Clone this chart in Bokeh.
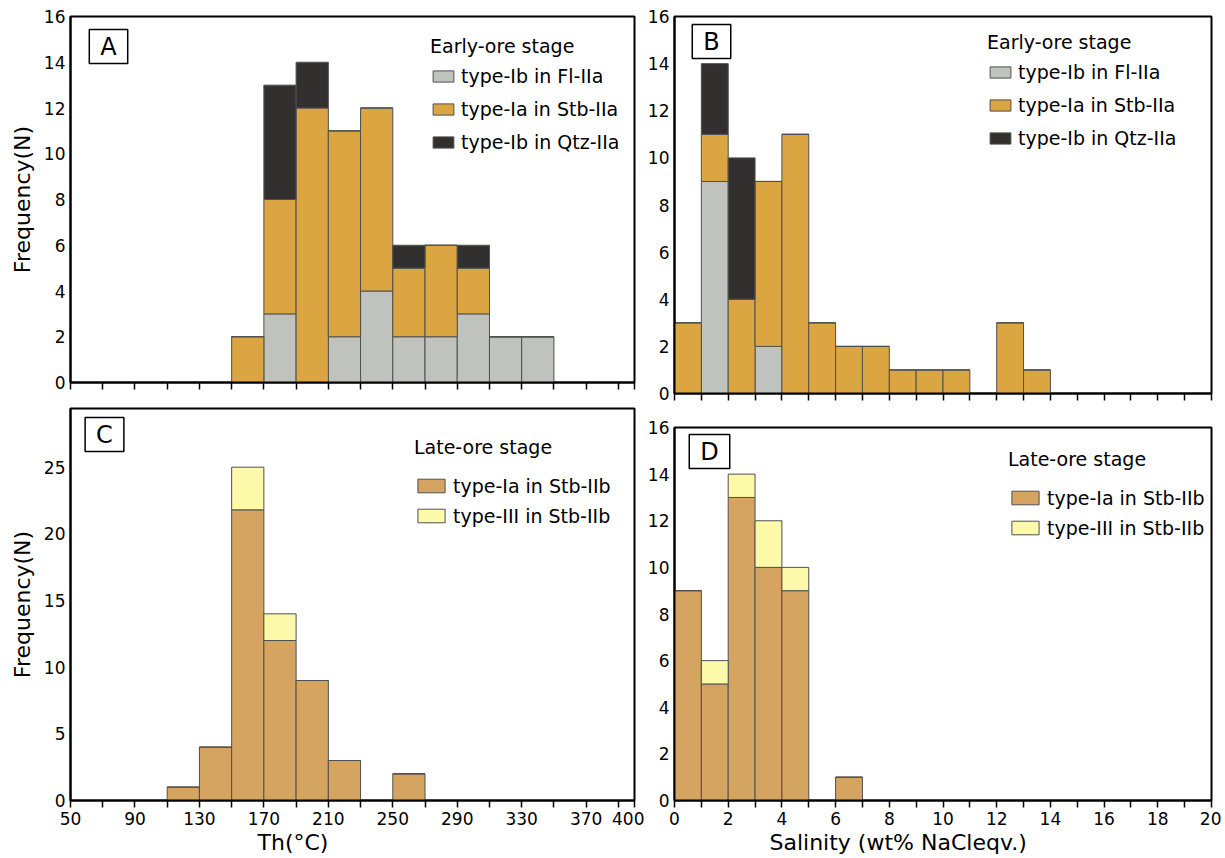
from bokeh.plotting import figure
from bokeh.models import Range1d, FixedTicker, Legend, LegendItem, Label, Title, ColumnDataSource
from bokeh.layouts import row, column
from bokeh.embed import file_html
from bokeh.resources import INLINE

FONT = "DejaVu Sans"

# ---------------- data ----------------
# Th (°C) histograms, bin width 20
th_bin_left_A = [150, 170, 190, 210, 230, 250, 270, 290, 310, 330]
A_fl_Ib = [0, 3, 0, 2, 4, 2, 2, 3, 2, 2]        # type-Ib in Fl-IIa
A_stb_Ia = [2, 5, 12, 9, 8, 3, 4, 2, 0, 0]      # type-Ia in Stb-IIa
A_qtz_Ib = [0, 5, 2, 0, 0, 1, 0, 1, 0, 0]       # type-Ib in Qtz-IIa

th_bin_left_C = [110, 130, 150, 170, 190, 210, 230, 250]
C_stb_Ia = [1, 4, 21.8, 12, 9, 3, 0, 2]         # type-Ia in Stb-IIb
C_stb_III = [0, 0, 3.2, 2, 0, 0, 0, 0]          # type-III in Stb-IIb

# Salinity (wt% NaCl eqv.) histograms, bin width 1
sal_bin_left_B = [0, 1, 2, 3, 4, 5, 6, 7, 8, 9, 10, 11, 12, 13]
B_fl_Ib = [0, 9, 0, 2, 0, 0, 0, 0, 0, 0, 0, 0, 0, 0]
B_stb_Ia = [3, 2, 4, 7, 11, 3, 2, 2, 1, 1, 1, 0, 3, 1]
B_qtz_Ib = [0, 3, 6, 0, 0, 0, 0, 0, 0, 0, 0, 0, 0, 0]

sal_bin_left_D = [0, 1, 2, 3, 4, 5, 6]
D_stb_Ia = [9, 5, 13, 10, 9, 0, 1]
D_stb_III = [0, 1, 1, 2, 1, 0, 0]

th_width = 20
sal_width = 1

th_ticks = [50, 90, 130, 170, 210, 250, 290, 330, 370, 400]
th_minor = [70, 110, 150, 190, 230, 270, 310, 350, 390]
sal_ticks = [0, 2, 4, 6, 8, 10, 12, 14, 16, 18, 20]
sal_minor = [1, 3, 5, 7, 9, 11, 13, 15, 17, 19]
freq16_ticks = [0, 2, 4, 6, 8, 10, 12, 14, 16]
freq30_ticks = [0, 5, 10, 15, 20, 25]

early_labels = ["type-Ib in Fl-IIa", "type-Ia in Stb-IIa", "type-Ib in Qtz-IIa"]
late_labels = ["type-Ia in Stb-IIb", "type-III in Stb-IIb"]

GREY = "#c0c2be"
ORANGE = "#dba541"
DARK = "#32302f"
TAN = "#d6a461"
PALE = "#fcfaa8"
EDGE = "#505050"


def make_fig(w, h, bl, br, bt, bb, xr, yr, xticks, xminor, yticks, xlabels, ylabel):
    p = figure(width=w, height=h, x_range=Range1d(*xr), y_range=Range1d(*yr),
               output_backend="svg", toolbar_location=None, tools="",
               min_border_left=bl, min_border_right=br, min_border_top=bt, min_border_bottom=bb)
    p.xgrid.visible = False
    p.ygrid.visible = False
    p.background_fill_color = "white"
    p.border_fill_color = "white"
    p.outline_line_color = "black"
    p.outline_line_width = 2
    p.outline_line_alpha = 1

    xa = p.xaxis[0]
    if xlabels:
        xa.ticker = FixedTicker(ticks=xticks, minor_ticks=xminor)
    else:
        # unlabeled axis: every tick drawn as a minor tick (no labels)
        xa.ticker = FixedTicker(ticks=[], minor_ticks=sorted(xticks + xminor))
    xa.axis_line_width = 2
    xa.major_tick_out = 7
    xa.major_tick_in = 0
    xa.minor_tick_out = 7
    xa.minor_tick_in = 0
    xa.major_tick_line_width = 1.5
    xa.minor_tick_line_width = 1.5
    xa.major_tick_line_color = "black"
    xa.minor_tick_line_color = "black"
    xa.major_label_text_font = FONT
    xa.major_label_text_color = "black"
    xa.major_label_text_font_size = "17px"
    xa.major_label_standoff = 4 if xlabels else 0

    ya = p.yaxis[0]
    ya.ticker = FixedTicker(ticks=yticks, minor_ticks=[])
    ya.axis_line_width = 2
    ya.major_tick_out = 0
    ya.major_tick_in = 0
    ya.minor_tick_out = 0
    ya.minor_tick_in = 0
    ya.major_label_text_font = FONT
    ya.major_label_text_font_size = "17px"
    ya.major_label_text_color = "black"
    ya.major_label_standoff = 5
    if ylabel:
        ya.axis_label = ylabel
        ya.axis_label_text_font = FONT
        ya.axis_label_text_font_size = "22px"
        ya.axis_label_text_font_style = "normal"
        ya.axis_label_text_color = "black"
        ya.axis_label_standoff = 6
    return p


def add_bars(p, lefts, width, series, colors):
    centers = [l + width / 2 for l in lefts]
    data = {"x": centers}
    keys = []
    for i, s in enumerate(series):
        k = "s%d" % i
        data[k] = s
        keys.append(k)
    src = ColumnDataSource(data)
    return p.vbar_stack(keys, x="x", width=width, source=src,
                        fill_color=colors, line_color=EDGE, line_width=1)


def add_legend(p, rends, labels, title, loc, gw, gh, lh, sp, ts):
    items = [LegendItem(label=l, renderers=[r]) for l, r in zip(labels, rends)]
    lg = Legend(items=items, location=loc, title=title,
                title_text_font=FONT, title_text_font_size="19px", title_text_font_style="normal",
                title_text_color="black", title_standoff=ts,
                label_text_font=FONT, label_text_font_size="19px", label_text_color="black",
                glyph_width=gw, glyph_height=gh, label_height=lh, label_standoff=5,
                spacing=sp, padding=0, margin=0,
                border_line_color=None, background_fill_alpha=0)
    p.add_layout(lg)


def add_letter(p, letter, x, y):
    p.add_layout(Label(x=x, y=y, x_units="screen", y_units="screen", text=letter,
                       text_font=FONT, text_font_size="24px", text_color="black",
                       text_align="center", text_baseline="middle",
                       border_line_color="black", border_line_width=1.5,
                       background_fill_color="white", padding=(11, 3)))


def add_xtitle(p, text, offset):
    p.add_layout(Title(text=text, align="left", offset=offset, standoff=0,
                       text_font=FONT, text_font_size="22px", text_font_style="normal",
                       text_color="black"), "below")


# ---------------- panel A ----------------
pA = make_fig(644, 400, 70, 10, 16, 18, (50, 400), (0, 16), th_ticks, th_minor,
              freq16_ticks, False, "Frequency(N)")
rA = add_bars(pA, th_bin_left_A, th_width, [A_fl_Ib, A_stb_Ia, A_qtz_Ib], [GREY, ORANGE, DARK])
add_legend(pA, rA, early_labels, "Early-ore stage", (360, 229), 26, 14, 22, 11, 8)
add_letter(pA, "A", 38, 336)

# ---------------- panel B ----------------
pB = make_fig(577, 408, 28, 10, 16, 15, (0, 20), (0, 16), sal_ticks, sal_minor,
              freq16_ticks, False, None)
rB = add_bars(pB, sal_bin_left_B, sal_width, [B_fl_Ib, B_stb_Ia, B_qtz_Ib], [GREY, ORANGE, DARK])
add_legend(pB, rB, early_labels, "Early-ore stage", (313, 244), 26, 14, 22, 11, 8)
add_letter(pB, "B", 37, 352)

# ---------------- panel C ----------------
pC = make_fig(644, 458, 70, 10, 8, 58, (50, 400), (0, 29.4), th_ticks, th_minor,
              freq30_ticks, True, "Frequency(N)")
rC = add_bars(pC, th_bin_left_C, th_width, [C_stb_Ia, C_stb_III], [TAN, PALE])
add_legend(pC, rC, late_labels, "Late-ore stage", (344, 273.5), 34, 17, 20, 8, 17)
add_letter(pC, "C", 34, 366)
add_xtitle(pC, "Th(°C)", 187)

# ---------------- panel D ----------------
pD = make_fig(577, 450, 28, 10, 19, 58, (0, 20), (0, 16), sal_ticks, sal_minor,
              freq16_ticks, True, None)
rD = add_bars(pD, sal_bin_left_D, sal_width, [D_stb_Ia, D_stb_III], [TAN, PALE])
add_legend(pD, rD, late_labels, "Late-ore stage", (334, 261.5), 34, 17, 20, 8, 17)
add_letter(pD, "D", 35, 349)
add_xtitle(pD, "Salinity (wt% NaCleqv.)", 95)

layout = row(column(pA, pC), column(pB, pD))

open("out.html", "w").write(file_html(layout, INLINE))
